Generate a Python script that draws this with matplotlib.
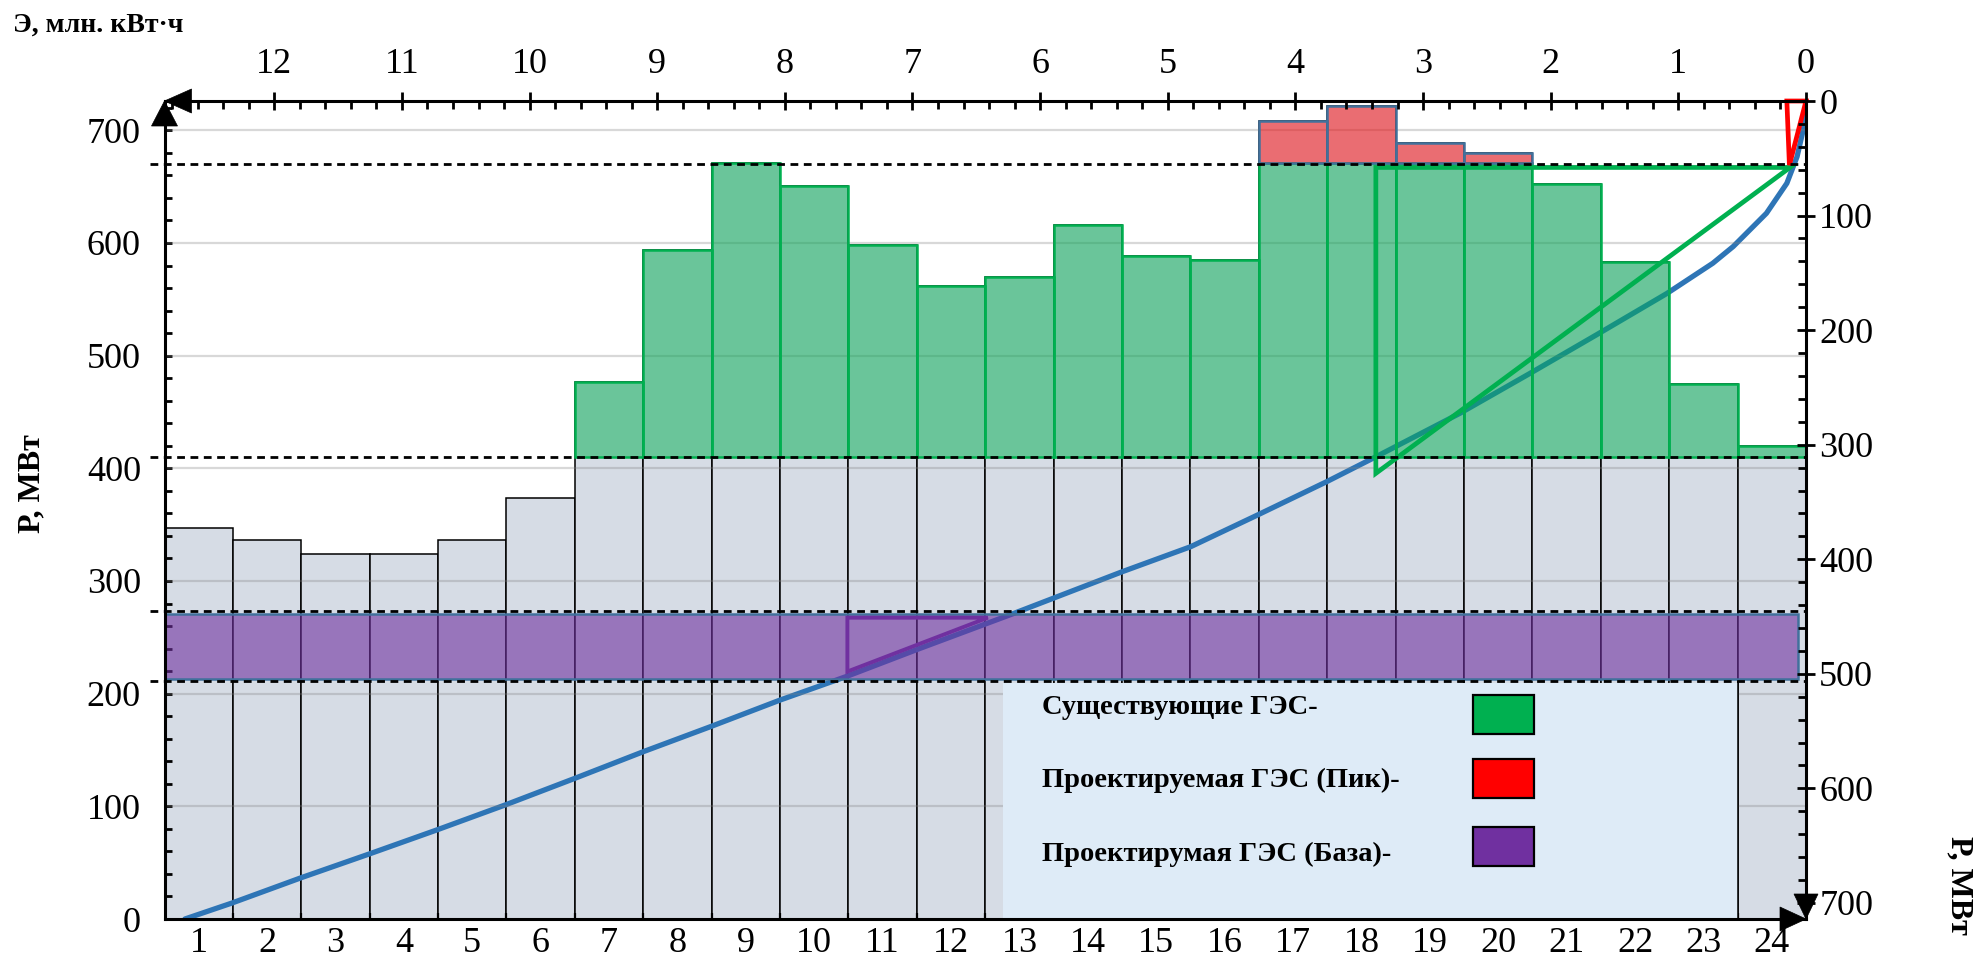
import numpy as np
import matplotlib
matplotlib.use("Agg")
import matplotlib.pyplot as plt
import matplotlib.transforms as mtransforms
from matplotlib.patches import Rectangle, Polygon
from matplotlib.ticker import MultipleLocator, FixedLocator

plt.rcParams['font.family'] = ['Liberation Serif', 'DejaVu Serif']

# ---------------- data ----------------
hours = np.arange(1, 25)
load_mw = np.array([347, 336, 324, 324, 336, 374, 477, 594, 671, 651, 598, 562,
                    570, 616, 588, 585, 708, 722, 689, 680, 652, 583, 475, 420])

peak_level = 671          # top of the existing HPP zone, MW
existing_base = 410       # bottom of the existing HPP zone, MW
base_band_mw = (213, 271) # proposed HPP operating in the base, MW
base_band_hours = (0.5, 24.38)
dashed_levels = [670, 410, 273, 211]

# integral (energy) curve of the load: E, million kWh vs P, MW (right axis)
curve_energy = [12.70, 12.33, 11.79, 11.25, 10.72, 10.18, 9.64, 9.11, 8.58, 8.04,
                7.51, 6.97, 6.20, 5.36, 4.82, 4.29, 3.75, 3.36, 2.71, 2.16,
                1.64, 1.09, 0.73, 0.57, 0.31, 0.15, 0.07, 0.01, 0.0]
curve_power = [714, 700, 678, 657, 636, 614, 591, 568, 546, 523,
               502, 479, 447, 411, 389, 361, 332, 310, 272.5, 237.6,
               204, 168, 141.6, 127, 98, 71.8, 48.6, 19.5, 0]

# construction triangles on the integral curve (E, P)
existing_tri_e = [0.125, 3.37, 3.37]
existing_tri_p = [58, 58, 325]
peak_tri_e = [0.0, 0.15, 0.13]
peak_tri_p = [0, 0, 56]
base_tri_e = [7.51, 6.41, 7.51]
base_tri_p = [451, 451, 498]

legend_labels = ['Существующие ГЭС-', 'Проектируемая ГЭС (Пик)-', 'Проектирумая ГЭС (База)-']
legend_colors = ['#00b050', '#ff0000', '#7030a0']

# ---------------- figure ----------------
W, H = 1983, 973
fig = plt.figure(figsize=(W / 100, H / 100), dpi=100)
rect = [164.5 / W, (H - 919) / H, (1806 - 164.5) / W, (919 - 101) / H]
ax = fig.add_axes(rect)
axc = fig.add_axes(rect, label='energy')
axc.patch.set_visible(False)
for sp in axc.spines.values():
    sp.set_visible(False)

ax.set_xlim(0.5, 24.5)
ax.set_ylim(0, 726)
axc.set_xlim(12.86, 0)
axc.set_ylim(714, 0)
ax.set_autoscale_on(False)

# load bars
ax.bar(hours, load_mw, width=1.0, color='#d6dce5', edgecolor='black',
       linewidth=1.1, zorder=1)

# gridlines
for g in range(100, 800, 100):
    ax.axhline(g, color='#7f7f7f', alpha=0.3, lw=1.6, zorder=2.5)

# integral curve (beneath the translucent zones)
ax.plot(curve_energy, curve_power, transform=axc.transData, color='#2e75b6',
        lw=3.8, zorder=2, solid_capstyle='round')

# existing HPP zone
mask_ex = load_mw > existing_base
ex_top = np.minimum(load_mw[mask_ex], peak_level)
ax.bar(hours[mask_ex], ex_top - existing_base, bottom=existing_base, width=1.0,
       color=(0.0, 0.69, 0.314, 0.5), edgecolor='#00b050', linewidth=1.8, zorder=3)

# proposed HPP peak zone
mask_pk = load_mw > peak_level
ax.bar(hours[mask_pk], load_mw[mask_pk] - peak_level, bottom=peak_level, width=1.0,
       color=(1.0, 0.0, 0.0, 0.5), edgecolor='#41719c', linewidth=1.8, zorder=3)

# proposed HPP base band
ax.add_patch(Rectangle((base_band_hours[0], base_band_mw[0]),
                       base_band_hours[1] - base_band_hours[0],
                       base_band_mw[1] - base_band_mw[0],
                       facecolor=(0.439, 0.188, 0.627, 0.6), edgecolor='#41719c',
                       linewidth=1.8, zorder=3))

# legend panel
ax.add_patch(Rectangle((12.76, 0), 23.5 - 12.76, 209.4, facecolor='#deebf7',
                       edgecolor='none', zorder=4))
ax.plot([23.5, 23.5], [0, 209.4], color='black', lw=1.1, zorder=4.1)
for i, (lab, col) in enumerate(zip(legend_labels, legend_colors)):
    yc = [0.258, 0.170, 0.0795][i]
    ax.text(0.5347, yc, lab, transform=ax.transAxes, fontsize=20.5, fontweight='bold',
            ha='left', va='center', zorder=6)
    ys = [0.226, 0.148, 0.065][i]
    ax.add_patch(Rectangle((0.7974, ys), 0.0372, 0.048, transform=ax.transAxes,
                           facecolor=col, edgecolor='black', lw=1.6, zorder=6))

# construction triangles
for te, tp, col, lw in [(existing_tri_e, existing_tri_p, '#00b050', 3.4),
                        (peak_tri_e, peak_tri_p, '#ff0000', 3.4),
                        (base_tri_e, base_tri_p, '#7030a0', 2.8)]:
    ax.add_patch(Polygon(np.column_stack([te, tp]), closed=True, fill=False,
                         edgecolor=col, lw=lw, transform=axc.transData,
                         zorder=5, clip_on=False, joinstyle='miter'))

# dashed levels
blend = mtransforms.blended_transform_factory(ax.transAxes, ax.transData)
for lvl in dashed_levels:
    ax.plot([-0.009, 1.0], [lvl, lvl], transform=blend, color='black', lw=2.0,
            dashes=(2.8, 2.0), clip_on=False, zorder=7)

# ---------------- axes styling ----------------
for sp in ax.spines.values():
    sp.set_linewidth(2.2)
    sp.set_zorder(8)

tick_font = 26
ax.yaxis.set_major_locator(MultipleLocator(100))
ax.yaxis.set_minor_locator(MultipleLocator(20))
ax.tick_params(axis='y', which='both', direction='in', length=5, width=2.0,
               labelsize=tick_font, pad=17, left=True, right=False)
ax.xaxis.set_major_locator(FixedLocator(hours))
ax.xaxis.set_minor_locator(FixedLocator(np.arange(1.5, 24.5, 1.0)))
ax.tick_params(axis='x', which='major', length=0, labelsize=tick_font, pad=6)
ax.tick_params(axis='x', which='minor', direction='in', length=4, width=1.6)

axc.xaxis.tick_top()
axc.yaxis.tick_right()
axc.xaxis.set_major_locator(MultipleLocator(1))
axc.xaxis.set_minor_locator(MultipleLocator(0.2))
axc.yaxis.set_major_locator(MultipleLocator(100))
axc.yaxis.set_minor_locator(MultipleLocator(20))
axc.tick_params(which='major', direction='inout', length=13, width=2.0,
                labelsize=tick_font)
axc.tick_params(which='minor', direction='in', length=6, width=2.0)
axc.tick_params(axis='x', which='major', pad=8)
axc.tick_params(axis='y', which='major', pad=3)
axc.set_xticks(np.arange(0, 13))
axc.set_yticks(np.arange(0, 701, 100))

# axis arrows drawn in pixel offsets from the corners
def corner_arrow(pts, corner):
    tr = mtransforms.IdentityTransform() + mtransforms.ScaledTranslation(
        corner[0], corner[1], ax.transAxes)
    fig.patches.append(Polygon(pts, closed=True, facecolor='black',
                               edgecolor='black', lw=0.5, transform=tr,
                               figure=fig, zorder=10))

corner_arrow([[0, 0], [27, 12], [27, -12]], (0, 1))      # left-pointing, top axis
corner_arrow([[0, 0], [-13, -25], [13, -25]], (0, 1))    # up-pointing, left axis
corner_arrow([[0, 0], [-26, 12], [-26, -12]], (1, 0))    # right-pointing, bottom axis
corner_arrow([[0, 0], [-12, 25], [12, 25]], (1, 0))      # down-pointing, right axis

# axis titles
fig.text(0.0064, 0.974, 'Э, млн. кВт·ч', fontsize=20, fontweight='bold',
         ha='left', va='center')
fig.text(0.0161, 0.5026, 'Р, МВт', fontsize=23, fontweight='bold',
         ha='center', va='center', rotation=90)
fig.text(0.988, 0.0904, 'Р, МВт', fontsize=23, fontweight='bold',
         ha='center', va='center', rotation=270)

fig.savefig('out.png', dpi=100)
